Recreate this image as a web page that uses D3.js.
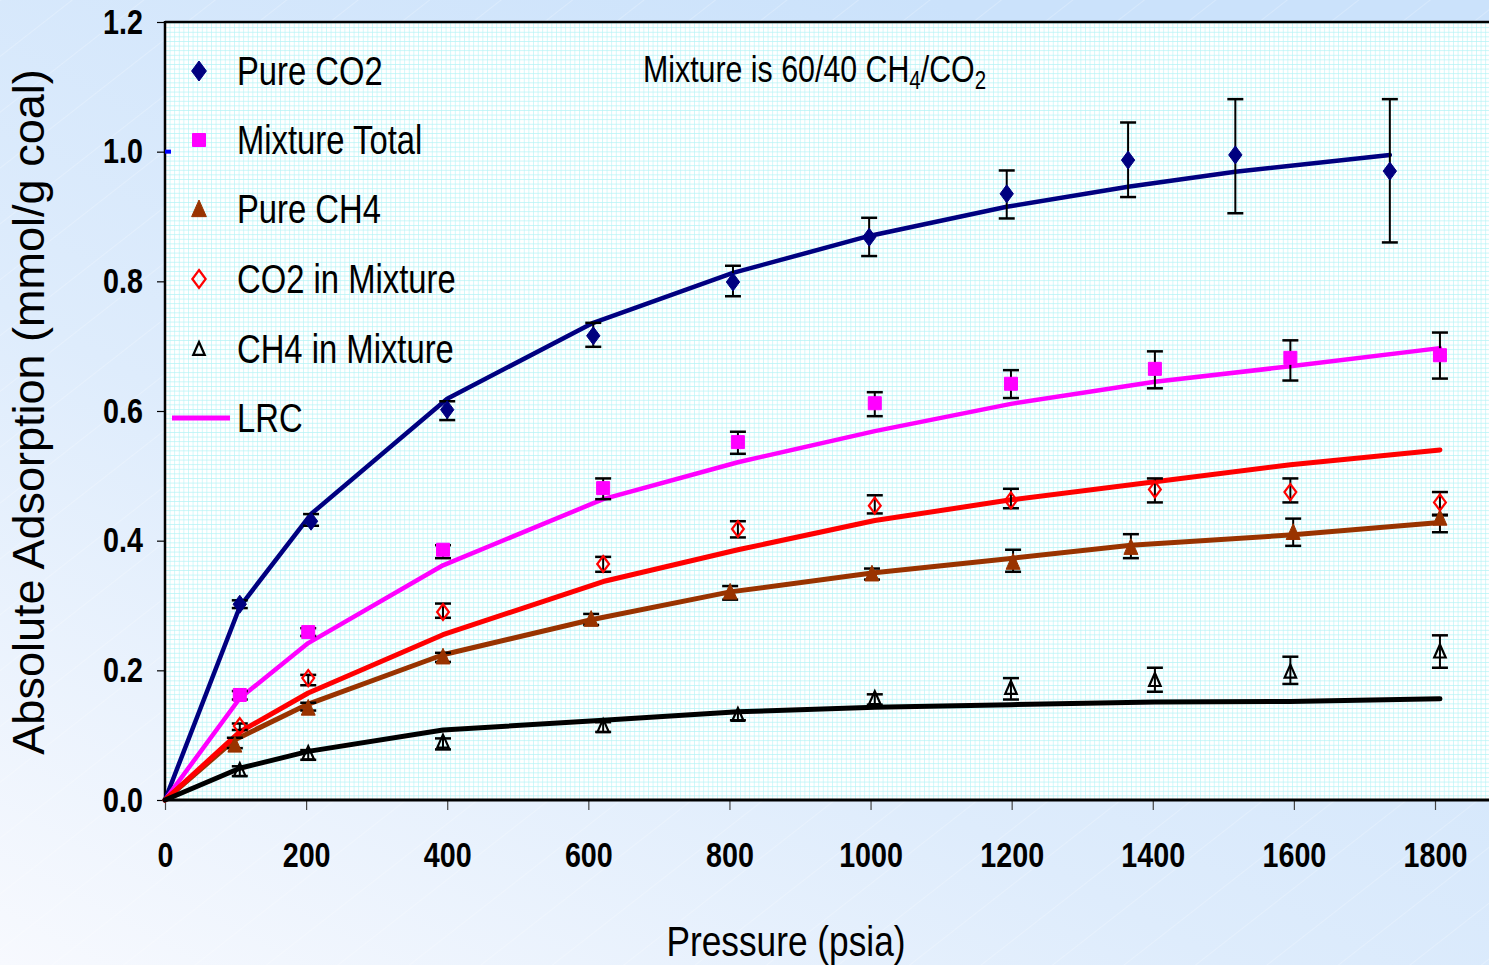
<!DOCTYPE html>
<html>
<head>
<meta charset="utf-8">
<script src="https://cdn.jsdelivr.net/npm/d3@7/dist/d3.min.js"></script>
<style>
  html, body { margin: 0; padding: 0; background: #ffffff; }
  svg { display: block; }
  text { font-family: "Liberation Sans Narrow", "Arial Narrow", "Liberation Sans", Arial, sans-serif; }
</style>
</head>
<body>
<svg id="chart" width="1489" height="965"></svg>
<script>
// ---------- data ----------
const xTicks = [0, 200, 400, 600, 800, 1000, 1200, 1400, 1600, 1800];
const yTicks = [0.0, 0.2, 0.4, 0.6, 0.8, 1.0, 1.2];

const pressureCO2 = [106, 207, 400, 607, 805, 998, 1193, 1365, 1517, 1736];
const pureCO2     = [0.302, 0.430, 0.602, 0.716, 0.799, 0.868, 0.935, 0.987, 0.995, 0.970];
const pureCO2Lo   = [0.296, 0.423, 0.586, 0.699, 0.777, 0.839, 0.897, 0.930, 0.905, 0.860];
const pureCO2Hi   = [0.308, 0.441, 0.615, 0.736, 0.824, 0.898, 0.971, 1.045, 1.081, 1.081];
const pureCO2Fit  = [0.298, 0.441, 0.619, 0.736, 0.813, 0.870, 0.915, 0.946, 0.969, 0.995];

const pressureMix = [106, 203, 394, 621, 812, 1006, 1199, 1403, 1595, 1807];
const mixTotal    = [0.162, 0.259, 0.386, 0.481, 0.552, 0.612, 0.642, 0.665, 0.682, 0.686];
const mixTotalLo  = [0.155, 0.253, 0.373, 0.464, 0.534, 0.592, 0.620, 0.635, 0.647, 0.650];
const mixTotalHi  = [0.168, 0.265, 0.393, 0.496, 0.568, 0.629, 0.663, 0.692, 0.709, 0.721];
const mixTotalFit = [0.157, 0.242, 0.362, 0.464, 0.521, 0.569, 0.611, 0.645, 0.669, 0.697];

const pressureCH4 = [99, 203, 394, 604, 801, 1002, 1202, 1369, 1599, 1807];
const pureCH4     = [0.085, 0.142, 0.221, 0.279, 0.321, 0.349, 0.367, 0.390, 0.413, 0.435];
const pureCH4Lo   = [0.080, 0.138, 0.213, 0.270, 0.309, 0.340, 0.352, 0.373, 0.392, 0.413];
const pureCH4Hi   = [0.096, 0.150, 0.227, 0.287, 0.330, 0.357, 0.386, 0.410, 0.434, 0.440];
const pureCH4Fit  = [0.093, 0.148, 0.224, 0.278, 0.321, 0.350, 0.373, 0.393, 0.409, 0.428];

const co2Mix      = [0.114, 0.188, 0.290, 0.364, 0.418, 0.454, 0.462, 0.479, 0.475, 0.459];
const co2MixLo    = [0.108, 0.177, 0.281, 0.352, 0.405, 0.442, 0.450, 0.459, 0.459, 0.439];
const co2MixHi    = [0.118, 0.193, 0.303, 0.375, 0.430, 0.470, 0.480, 0.496, 0.496, 0.475];
const co2MixFit   = [0.105, 0.165, 0.255, 0.337, 0.386, 0.431, 0.463, 0.491, 0.517, 0.540];

const ch4Mix      = [0.046, 0.072, 0.090, 0.114, 0.131, 0.157, 0.173, 0.185, 0.198, 0.229];
const ch4MixLo    = [0.037, 0.062, 0.078, 0.105, 0.123, 0.147, 0.155, 0.167, 0.179, 0.204];
const ch4MixHi    = [0.052, 0.077, 0.095, 0.120, 0.137, 0.163, 0.188, 0.204, 0.221, 0.254];
const ch4MixFit   = [0.049, 0.075, 0.108, 0.123, 0.136, 0.143, 0.147, 0.151, 0.152, 0.156];

const legendLabels = ["Pure CO2", "Mixture Total", "Pure CH4", "CO2 in Mixture", "CH4 in Mixture", "LRC"];

// ---------- setup ----------
const W = 1489, H = 965;
const NS = 0.82; // horizontal squeeze to emulate a narrow face
const svg = d3.select("#chart");
const defs = svg.append("defs");

const bg = defs.append("linearGradient").attr("id", "bgGrad")
  .attr("x1", "0").attr("y1", "1").attr("x2", "0.75").attr("y2", "0.1");
bg.append("stop").attr("offset", "0").attr("stop-color", "#f7f9fe");
bg.append("stop").attr("offset", "0.45").attr("stop-color", "#deecfc");
bg.append("stop").attr("offset", "1").attr("stop-color", "#cbe2fb");

const diag = defs.append("pattern").attr("id", "diag").attr("patternUnits", "userSpaceOnUse")
  .attr("width", 44).attr("height", 44).attr("patternTransform", "rotate(-38)");
diag.append("line").attr("x1", 0).attr("y1", 0).attr("x2", 44).attr("y2", 0)
  .attr("stroke", "#ffffff").attr("stroke-opacity", 0.45).attr("stroke-width", 1);

const gs = 4.6;
const grid = defs.append("pattern").attr("id", "grid").attr("patternUnits", "userSpaceOnUse")
  .attr("width", gs).attr("height", gs).attr("x", 165).attr("y", 800);
grid.append("rect").attr("width", gs).attr("height", gs).attr("fill", "#ffffff");
grid.append("path").attr("d", `M0,0H${gs}M0,0V${gs}`)
  .attr("stroke", "#b4f4f6").attr("stroke-width", 1.2).attr("fill", "none");

svg.append("rect").attr("width", W).attr("height", H).attr("fill", "url(#bgGrad)");
svg.append("rect").attr("width", W).attr("height", H).attr("fill", "url(#diag)");

const x = d3.scaleLinear().domain([0, 1800]).range([165, 1435]);
const y = d3.scaleLinear().domain([0, 1.2]).range([800, 22]);

svg.append("rect").attr("x", x(0)).attr("y", y(1.2))
  .attr("width", W - x(0)).attr("height", y(0) - y(1.2)).attr("fill", "url(#grid)");

svg.append("line").attr("x1", x(0)).attr("x2", W).attr("y1", y(1.2)).attr("y2", y(1.2))
  .attr("stroke", "#000").attr("stroke-width", 2.5);

// axes
const xAxis = svg.append("g").attr("transform", `translate(0,${y(0)})`)
  .call(d3.axisBottom(x).tickValues(xTicks).tickSize(10).tickPadding(32).tickFormat(d3.format("d")));
xAxis.select(".domain").remove();
xAxis.selectAll(".tick line").attr("stroke", "#444").attr("stroke-width", 1.2);
xAxis.selectAll("text").attr("font-size", 35).attr("font-weight", "bold")
  .attr("fill", "#000").attr("dy", "0.71em").attr("transform", `scale(${NS},1)`);
svg.append("line").attr("x1", x(0)).attr("x2", W).attr("y1", y(0)).attr("y2", y(0))
  .attr("stroke", "#000").attr("stroke-width", 3);

const yAxis = svg.append("g").attr("transform", `translate(${x(0)},0)`)
  .call(d3.axisLeft(y).tickValues(yTicks).tickSize(8).tickPadding(14).tickFormat(d3.format(".1f")));
yAxis.select(".domain").remove();
yAxis.selectAll(".tick line").attr("stroke", "#000").attr("stroke-width", 1.2);
yAxis.selectAll("text").attr("font-size", 35).attr("font-weight", "bold")
  .attr("fill", "#000").attr("x", -22 / NS).attr("transform", `scale(${NS},1)`);
svg.append("line").attr("x1", x(0)).attr("x2", x(0)).attr("y1", y(1.2) - 1).attr("y2", y(0) + 1)
  .attr("stroke", "#000").attr("stroke-width", 2.5);
svg.append("rect").attr("x", x(0)).attr("y", y(1.0) - 2).attr("width", 6).attr("height", 4).attr("fill", "#0000ff");

// axis titles
svg.append("text").attr("transform", `translate(44,412) rotate(-90)`)
  .attr("text-anchor", "middle").style("font-family", "'Liberation Sans', Arial, sans-serif")
  .attr("font-size", 45).attr("fill", "#000").text("Absolute Adsorption (mmol/g coal)");
svg.append("g").attr("transform", `translate(786,956) scale(${NS},1)`)
  .append("text").attr("text-anchor", "middle").attr("font-size", 43).attr("fill", "#000").text("Pressure (psia)");

// ---------- series ----------
const series = [
  { p: pressureCO2, v: pureCO2, lo: pureCO2Lo, hi: pureCO2Hi, fit: pureCO2Fit, color: "#000080", lw: 4.5, marker: "diamond", fill: true, size: 18, lsize: 20 },
  { p: pressureMix, v: mixTotal, lo: mixTotalLo, hi: mixTotalHi, fit: mixTotalFit, color: "#ff00ff", lw: 4.5, marker: "square", fill: true, size: 13, lsize: 13 },
  { p: pressureCH4, v: pureCH4, lo: pureCH4Lo, hi: pureCH4Hi, fit: pureCH4Fit, color: "#993300", lw: 5, marker: "triangle", fill: true, size: 17, lsize: 18 },
  { p: pressureMix, v: co2Mix, lo: co2MixLo, hi: co2MixHi, fit: co2MixFit, color: "#ff0000", lw: 5, marker: "diamond", fill: false, size: 16, lsize: 18 },
  { p: pressureMix, v: ch4Mix, lo: ch4MixLo, hi: ch4MixHi, fit: ch4MixFit, color: "#000000", lw: 5, marker: "triangle", fill: false, size: 14, lsize: 14 }
];

function markerPath(type, s) {
  const h = s / 2;
  if (type === "diamond") return `M0,${-h}L${h * 0.74},0L0,${h}L${-h * 0.74},0Z`;
  if (type === "square") return `M${-h},${-h}H${h}V${h}H${-h}Z`;
  return `M0,${-h}L${h * 0.82},${h * 0.85}L${-h * 0.82},${h * 0.85}Z`;
}

const line = d3.line().x(d => x(d[0])).y(d => y(d[1]));

series.forEach(s => {
  const pts = [[0, 0]].concat(s.p.map((p, i) => [p, s.fit[i]]));
  svg.append("path").attr("d", line(pts)).attr("fill", "none")
    .attr("stroke", s.color).attr("stroke-width", s.lw)
    .attr("stroke-linejoin", "round").attr("stroke-linecap", "round");
});

series.forEach(s => {
  const g = svg.append("g");
  s.p.forEach((p, i) => {
    const cx = x(p);
    g.append("line").attr("x1", cx).attr("x2", cx).attr("y1", y(s.lo[i])).attr("y2", y(s.hi[i]))
      .attr("stroke", "#000").attr("stroke-width", 2);
    [s.lo[i], s.hi[i]].forEach(v => {
      g.append("line").attr("x1", cx - 8).attr("x2", cx + 8).attr("y1", y(v)).attr("y2", y(v))
        .attr("stroke", "#000").attr("stroke-width", 2.5);
    });
  });
});

series.forEach(s => {
  svg.append("g").selectAll("path").data(s.p.map((p, i) => [p, s.v[i]])).join("path")
    .attr("transform", d => `translate(${x(d[0])},${y(d[1])})`)
    .attr("d", markerPath(s.marker, s.size))
    .attr("fill", s.fill ? s.color : "none")
    .attr("stroke", s.color).attr("stroke-width", s.fill ? 1 : 2.2);
});

// ---------- legend ----------
const legY = [71, 140, 209, 279, 349, 418];
const leg = svg.append("g");
series.forEach((s, i) => {
  leg.append("path").attr("transform", `translate(199,${legY[i]})`)
    .attr("d", markerPath(s.marker, s.lsize))
    .attr("fill", s.fill ? s.color : "none")
    .attr("stroke", s.color).attr("stroke-width", s.fill ? 1 : 2.2);
});
leg.append("line").attr("x1", 172).attr("x2", 230).attr("y1", legY[5]).attr("y2", legY[5])
  .attr("stroke", "#ff00ff").attr("stroke-width", 5);
legendLabels.forEach((t, i) => {
  leg.append("g").attr("transform", `translate(237,${legY[i]}) scale(${NS},1)`)
    .append("text").attr("dy", "0.36em").attr("font-size", 40).attr("fill", "#000").text(t);
});

// annotation
const ann = svg.append("g").attr("transform", `translate(643,82) scale(${NS},1)`)
  .append("text").attr("font-size", 37).attr("fill", "#000");
ann.append("tspan").text("Mixture is 60/40 CH");
ann.append("tspan").attr("font-size", 25).attr("dy", 7).text("4");
ann.append("tspan").attr("dy", -7).text("/CO");
ann.append("tspan").attr("font-size", 25).attr("dy", 7).text("2");
</script>
</body>
</html>
